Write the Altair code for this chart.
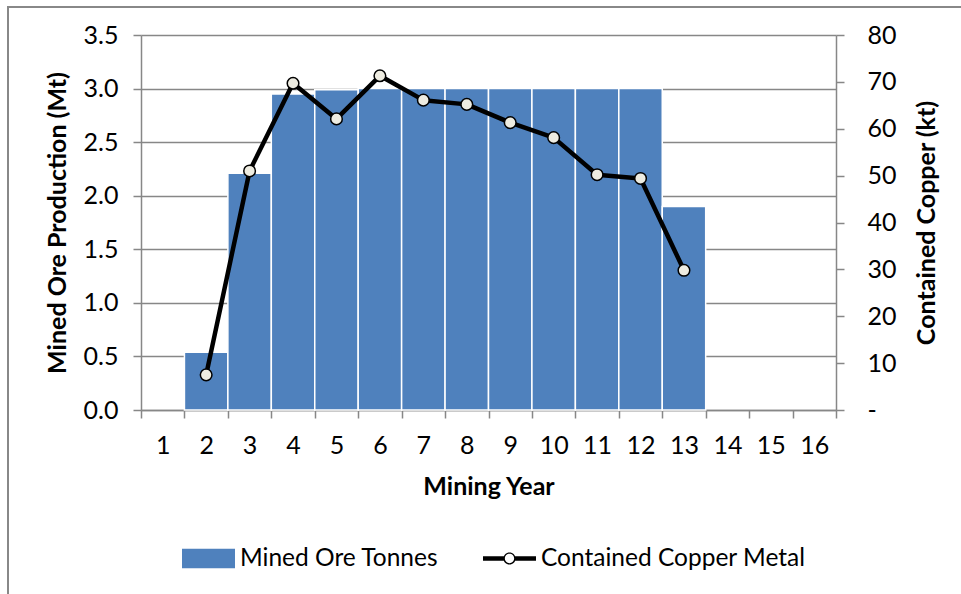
import altair as alt
import pandas as pd

# Mining schedule by year
years = list(range(1, 17))
ore_mt = [None, 0.54, 2.21, 2.95, 2.99, 3.00, 3.00, 3.00, 3.00, 3.00, 3.00, 3.00, 1.90, None, None, None]
copper_kt = [None, 7.5, 51.0, 69.7, 62.1, 71.3, 66.1, 65.2, 61.3, 58.1, 50.2, 49.4, 29.8, None, None, None]

series_names = ["Mined Ore Tonnes", "Contained Copper Metal"]
series_colors = ["#4F81BD", "#000000"]

ore_ticks = [0.0, 0.5, 1.0, 1.5, 2.0, 2.5, 3.0, 3.5]
copper_ticks = [0, 10, 20, 30, 40, 50, 60, 70, 80]

df = pd.DataFrame({"Year": years, "Ore": ore_mt, "Copper": copper_kt})

W, H = 695, 375
FONT = "Lato"
GREY = "#878787"
BAR_BLUE = series_colors[0]

axis_common = dict(
    labelFont=FONT, labelFontSize=25, labelColor="#000000",
    titleFont=FONT, titleFontSize=25, titleFontWeight="bold", titleColor="#000000",
    domainColor=GREY, domainWidth=1.5, tickColor=GREY, tickWidth=1.5, tickSize=8,
)

x_enc = alt.X(
    "Year:O",
    scale=alt.Scale(domain=years, paddingInner=0, paddingOuter=0),
    axis=alt.Axis(
        title="Mining Year", labelAngle=0, tickBand="extent", grid=False,
        labelPadding=15, titleX=W / 2, titleY=84, titleAlign="center",
        titleBaseline="alphabetic", **axis_common,
    ),
)

bars = (
    alt.Chart(df)
    .transform_filter("datum.Ore != null")
    .mark_bar(color=BAR_BLUE, stroke="#FFFFFF", strokeWidth=1.5, opacity=1)
    .encode(
        x=x_enc,
        y=alt.Y(
            "Ore:Q",
            scale=alt.Scale(domain=[0, 3.5], nice=False, zero=True),
            axis=alt.Axis(
                orient="left", title="Mined Ore Production (Mt)", values=ore_ticks,
                format=".1f", grid=True, gridColor=GREY, gridWidth=1.5,
                labelPadding=15, labelAlign="right", labelBaseline="middle",
                titleAngle=270, titleX=-84, titleY=H / 2, titleAlign="center",
                titleBaseline="middle", **axis_common,
            ),
        ),
    )
)

copper_y = alt.Y(
    "Copper:Q",
    scale=alt.Scale(domain=[0, 80], nice=False, zero=True),
    axis=alt.Axis(
        orient="right", title="Contained Copper (kt)", values=copper_ticks,
        labelExpr="datum.value == 0 ? '-' : datum.label", grid=False,
        labelPadding=23, labelAlign="left", labelBaseline="middle",
        titleAngle=270, titleX=90, titleY=H / 2, titleAlign="center",
        titleBaseline="middle", **axis_common,
    ),
)

line = (
    alt.Chart(df)
    .transform_filter("datum.Copper != null")
    .mark_line(color="#000000", strokeWidth=4.5, strokeJoin="round")
    .encode(x=x_enc, y=copper_y)
)

points = (
    alt.Chart(df)
    .transform_filter("datum.Copper != null")
    .mark_point(filled=True, fill="#EEECE1", stroke="#000000", strokeWidth=1.5, size=135, opacity=1)
    .encode(x=x_enc, y=copper_y)
)

copper = alt.layer(line, points)

# legend symbols: a bar swatch and a line with a ring marker
bar_path = "M-1,-0.37H1V0.37H-1Z"
line_path = (
    "M-1,-0.085H-0.2V0.085H-1Z"
    "M0.2,-0.085H1V0.085H0.2Z"
    "M-0.23,0A0.23,0.23 0 1,1 0.23,0A0.23,0.23 0 1,1 -0.23,0Z"
    "M-0.175,0A0.175,0.175 0 1,0 0.175,0A0.175,0.175 0 1,0 -0.175,0Z"
)

legend = alt.Legend(
    title=None, orient="none", direction="horizontal",
    legendX=41, legendY=497,
    labelFont=FONT, labelFontSize=24.5, labelColor="#000000", labelLimit=500,
    labelOffset=5, columnPadding=44, symbolSize=2809,
    symbolStrokeWidth=0, symbolOpacity=1,
)

# keys carrying the legend; the marks themselves sit outside the canvas
legend_keys = (
    alt.Chart(alt.Data(values=[{"series": s} for s in series_names]))
    .mark_point(filled=True, size=2809, strokeWidth=0, opacity=1)
    .encode(
        x=alt.value(-2000),
        y=alt.value(-2000),
        color=alt.Color("series:N", scale=alt.Scale(domain=series_names, range=series_colors), legend=legend),
        shape=alt.Shape("series:N", scale=alt.Scale(domain=series_names, range=[bar_path, line_path]), legend=legend),
    )
)

# outer chart frame
frame = (
    alt.Chart(alt.Data(values=[{"frame": 1}]))
    .mark_rect(fillOpacity=0, stroke="#888888", strokeWidth=2)
    .encode(x=alt.value(-133), x2=alt.value(W + 200), y=alt.value(-28), y2=alt.value(H + 300))
)

chart = (
    alt.layer(frame, bars, copper, legend_keys)
    .resolve_scale(y="independent")
    .properties(
        width=W, height=H,
        autosize=alt.AutoSizeParams(type="none"),
        padding={"left": 141, "top": 35, "right": 125, "bottom": 184},
        background="#FFFFFF",
    )
    .configure_view(stroke=None)
)

chart.save("out.html", embed_options={"renderer": "svg", "actions": False})
